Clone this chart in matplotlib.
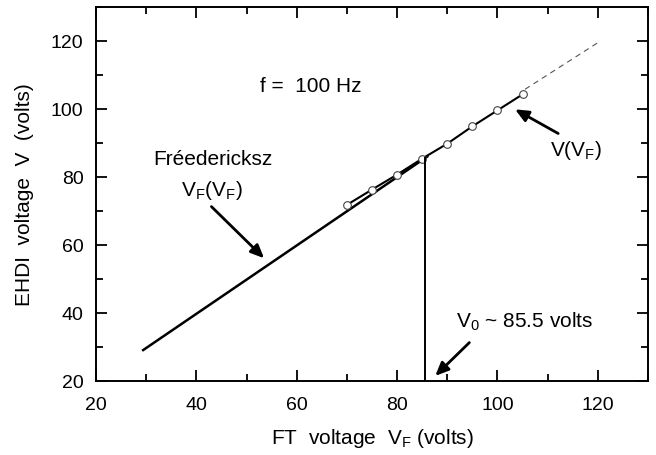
import matplotlib
matplotlib.use("Agg")
import matplotlib.pyplot as plt
from matplotlib.ticker import MultipleLocator

plt.rcParams["font.family"] = ["Liberation Sans", "DejaVu Sans"]
plt.rcParams["mathtext.default"] = "regular"

# measured points V(V_F)
vf_data = [70, 75, 80, 85, 90, 95, 100, 105]
v_data = [71.8, 76.3, 80.7, 85.4, 89.8, 94.9, 99.6, 104.3]

# Freedericksz line V = V_F
vf_line = [29.4, 86.0]
v_line = [29.1, 86.0]

# dashed extension
vf_dash = [105.5, 120]
v_dash = [105.8, 119.5]

v0 = 85.5

fig = plt.figure(figsize=(6.56, 4.56), dpi=100)
ax = fig.add_axes([96 / 656, 1 - 382 / 456, 552 / 656, 374 / 456])

ax.plot(vf_line, v_line, color="black", lw=1.8)
ax.plot(vf_dash, v_dash, color="#555555", lw=0.8, ls=(0, (5, 4)))
ax.plot(vf_data, v_data, color="black", lw=1.5, marker="o", ms=5.5,
        mfc="white", mec="#444444", mew=0.8)
ax.plot([v0, v0], [20, v0], color="black", lw=1.4)

ax.set_xlim(20, 130)
ax.set_ylim(20, 130)
ax.xaxis.set_minor_locator(MultipleLocator(10))
ax.yaxis.set_minor_locator(MultipleLocator(10))
ax.set_xticks([20, 40, 60, 80, 100, 120])
ax.set_yticks([20, 40, 60, 80, 100, 120])
ax.tick_params(which="both", direction="in", top=True, right=True,
               width=1.3, labelsize=14)
ax.tick_params(axis="x", which="both", pad=11)
ax.tick_params(axis="y", which="both", pad=9)
ax.tick_params(which="major", length=8)
ax.tick_params(which="minor", length=5)
for sp in ax.spines.values():
    sp.set_linewidth(1.4)

ax.set_xlabel("FT  voltage  $V_F$ (volts)", fontsize=15, labelpad=9)
ax.set_ylabel("EHDI  voltage  V  (volts)", fontsize=15, labelpad=12)

fs = 15
ax.text(52.6, 106.8, "f =  100 Hz", fontsize=fs, va="center", ha="left")
ax.text(43.3, 85.4, "Fréedericksz", fontsize=fs, va="center", ha="center")
ax.text(43.0, 76.4, "$V_F(V_F)$", fontsize=fs, va="center", ha="center")
ax.text(115.7, 88.2, "$V(V_F)$", fontsize=fs, va="center", ha="center")
ax.text(91.8, 37.6, "$V_0$ ~ 85.5 volts", fontsize=fs, va="center", ha="left")

arrow = dict(arrowstyle="-|>,head_length=0.5,head_width=0.22", color="black",
             lw=2.0, mutation_scale=16, shrinkA=0, shrinkB=0)
ax.annotate("", xy=(53.5, 56.1), xytext=(43.0, 71.3), arrowprops=arrow)
ax.annotate("", xy=(103.5, 99.9), xytext=(112.1, 92.8), arrowprops=arrow)
ax.annotate("", xy=(87.6, 21.5), xytext=(94.4, 31.3), arrowprops=arrow)

fig.savefig("out.png", dpi=100)
